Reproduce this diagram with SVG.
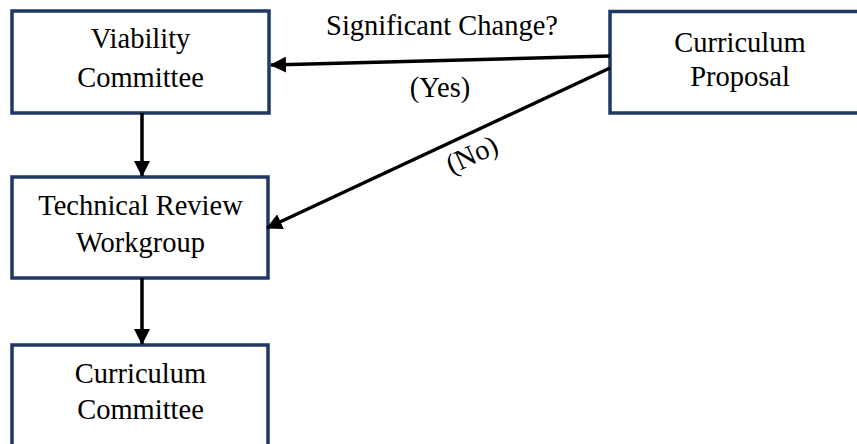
<svg xmlns="http://www.w3.org/2000/svg" width="857" height="444" viewBox="0 0 857 444">
<style>
.box{fill:#fff;stroke:#1F3864;stroke-width:3.5}
text{font-family:'Liberation Serif','Times New Roman',Times,serif;font-size:28.5px;fill:#000;text-anchor:middle}
.c{stroke:#000;stroke-width:3.5;fill:none;marker-end:url(#ah)}
</style>
<defs>
<marker id="ah" markerUnits="userSpaceOnUse" markerWidth="16" markerHeight="16" viewBox="0 0 16 16" refX="15" refY="8" orient="auto">
<path d="M0,0 L16,8 L0,16 Z" fill="#000"/>
</marker>
</defs>
<rect width="857" height="444" fill="#fff"/>
<g id="viability">
<rect class="box" x="12" y="11" width="257" height="102"/>
<text x="140.5" y="48" font-family="Liberation Serif">Viability</text>
<text x="140.5" y="87" font-family="Liberation Serif">Committee</text>
</g>
<g id="technical">
<rect class="box" x="12" y="177" width="256" height="101"/>
<text x="140.5" y="215" font-family="Liberation Serif">Technical Review</text>
<text x="140.5" y="252" font-family="Liberation Serif">Workgroup</text>
</g>
<g id="curriculum-committee">
<rect class="box" x="12" y="345" width="256" height="110"/>
<text x="140.5" y="383" font-family="Liberation Serif">Curriculum</text>
<text x="140.5" y="419" font-family="Liberation Serif">Committee</text>
</g>
<g id="proposal">
<rect class="box" x="610" y="11.5" width="262" height="101.5"/>
<text x="740" y="52" font-family="Liberation Serif">Curriculum</text>
<text x="740" y="86" font-family="Liberation Serif">Proposal</text>
</g>
<g id="connectors">
<line class="c" x1="142" y1="113" x2="142" y2="176"/>
<line class="c" x1="142" y1="278" x2="142" y2="344"/>
<line class="c" x1="610" y1="56" x2="271" y2="65"/>
<line class="c" x1="610" y1="68" x2="267" y2="228"/>
<text x="442" y="35" font-family="Liberation Serif">Significant Change?</text>
<text x="440" y="97" font-family="Liberation Serif">(Yes)</text>
<text transform="translate(472,155) rotate(-25)" x="0" y="9" font-family="Liberation Serif">(No)</text>
</g>
</svg>
